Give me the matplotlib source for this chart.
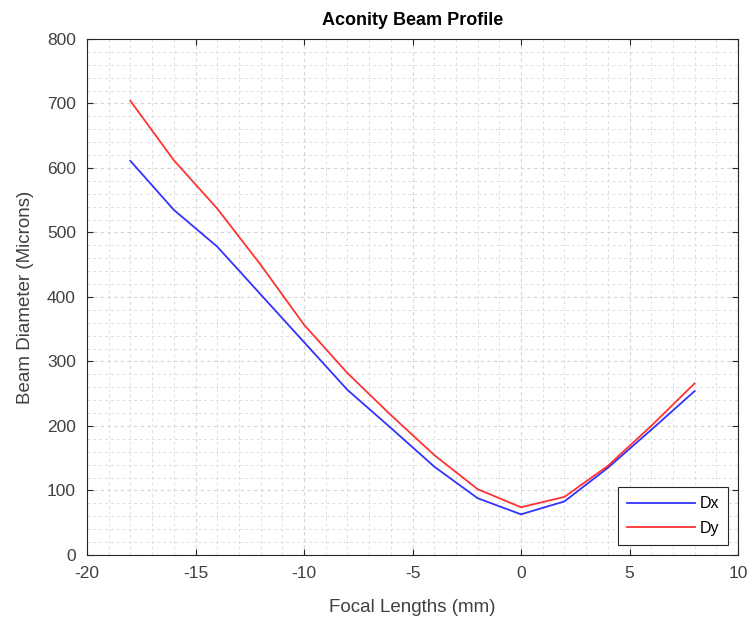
import numpy as np
import matplotlib.pyplot as plt
from matplotlib.ticker import MultipleLocator

plt.rcParams['font.family'] = ['Liberation Sans', 'DejaVu Sans']
plt.rcParams['axes.unicode_minus'] = False

focal = [-18, -16, -14, -12, -10, -8, -6, -4, -2, 0, 2, 4, 6, 8]
dx = [611, 535, 478, 404, 330, 256, 197, 137, 88, 63, 83, 135, 194, 254]
dy = [704, 612, 537, 450, 357, 282, 217, 155, 102, 74, 90, 138, 200, 266]

fig = plt.figure(figsize=(7.5, 6.18), dpi=100)
ax = fig.add_axes([0.116, 0.102, 0.868, 0.835])

ax.plot(focal, dx, color='#0000ff', lw=1.3, alpha=0.8, label='Dx')
ax.plot(focal, dy, color='#ff0000', lw=1.3, alpha=0.8, label='Dy')

ax.set_xlim(-20, 10)
ax.set_ylim(0, 800)
ax.xaxis.set_major_locator(MultipleLocator(5))
ax.xaxis.set_minor_locator(MultipleLocator(1))
ax.yaxis.set_major_locator(MultipleLocator(100))
ax.yaxis.set_minor_locator(MultipleLocator(20))

ax.grid(which='major', color='#d4d4d4', ls=(0, (3, 3)), lw=0.8)
ax.grid(which='minor', color='#dedede', ls=(0, (3, 3)), lw=0.7)
ax.set_axisbelow(True)

ax.tick_params(which='both', direction='in', top=True, right=True, colors='#262626',
               labelcolor='#404040', labelsize=12.5)
ax.tick_params(which='major', length=4, pad=8)
ax.tick_params(which='minor', length=0)
for s in ax.spines.values():
    s.set_color('#262626')
    s.set_linewidth(0.8)

ax.set_xlabel('Focal Lengths (mm)', fontsize=13.5, color='#404040', labelpad=13)
ax.set_ylabel('Beam Diameter (Microns)', fontsize=13.5, color='#404040', labelpad=9)
ax.set_title('Aconity Beam Profile', fontsize=13, fontweight='bold', pad=10)

leg = ax.legend(loc='lower right', fontsize=11.5, fancybox=False, framealpha=1,
                edgecolor='#262626', handlelength=4.2, borderaxespad=0.6,
                handletextpad=0.3, borderpad=0.6, labelspacing=0.6)
leg.get_frame().set_linewidth(0.8)

fig.savefig('out.png', dpi=100)
